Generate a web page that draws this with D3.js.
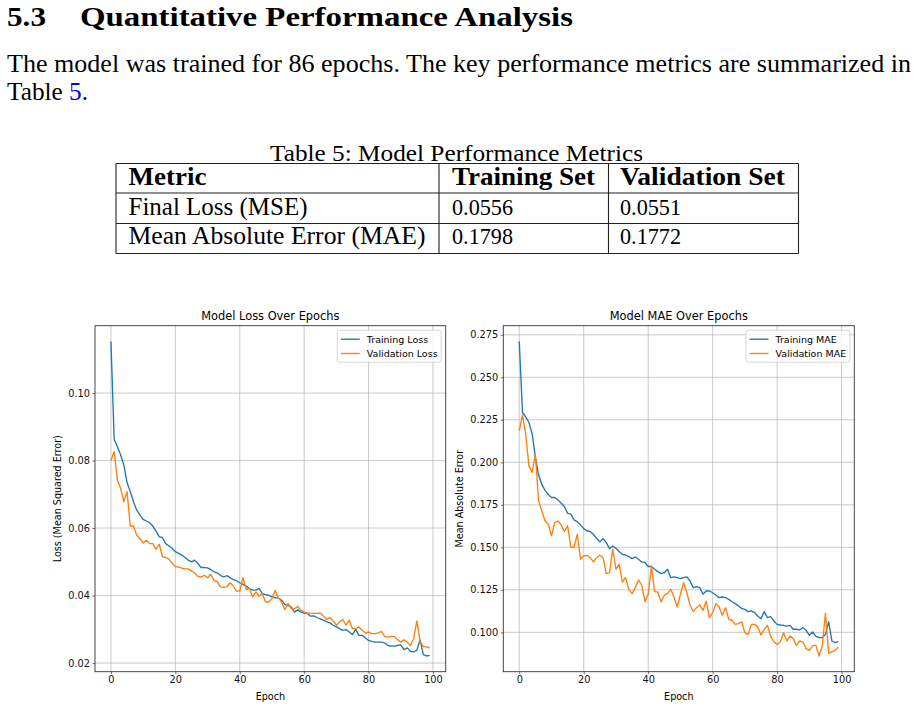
<!DOCTYPE html>
<html>
<head>
<meta charset="utf-8">
<script src="https://cdn.jsdelivr.net/npm/d3@7"></script>
<style>
  html, body { margin: 0; padding: 0; background: #fff; }
  svg { display: block; }
  .doc { font-family: "Liberation Serif", "DejaVu Serif", serif; fill: #000; }
  .mpl { font-family: "DejaVu Sans", sans-serif; fill: #000; }
</style>
</head>
<body>
<svg id="page" width="915" height="708"></svg>
<script>
// ---------------- data ----------------
const epochTicks = [0, 20, 40, 60, 80, 100];
const lossTicks = [0.02, 0.04, 0.06, 0.08, 0.10];
const maeTicks = [0.100, 0.125, 0.150, 0.175, 0.200, 0.225, 0.250, 0.275];

const trainLoss = [0.1153,0.0863,0.0841,0.0817,0.0787,0.0735,0.0708,0.0678,0.0653,0.0639,
  0.0626,0.0621,0.0616,0.0606,0.0591,0.0574,0.0572,0.0554,0.0547,0.0540,
  0.0530,0.0525,0.0520,0.0513,0.0505,0.0500,0.0505,0.0495,0.0483,0.0483,
  0.0482,0.0477,0.0470,0.0467,0.0460,0.0455,0.0459,0.0453,0.0447,0.0444,
  0.0438,0.0433,0.0428,0.0421,0.0416,0.0416,0.0421,0.0406,0.0403,0.0401,
  0.0396,0.0393,0.0393,0.0386,0.0374,0.0371,0.0366,0.0351,0.0358,0.0351,
  0.0348,0.0347,0.0339,0.0340,0.0335,0.0331,0.0327,0.0322,0.0319,0.0312,
  0.0307,0.0302,0.0297,0.0299,0.0292,0.0284,0.0300,0.0282,0.0282,0.0275,
  0.0267,0.0264,0.0262,0.0262,0.0262,0.0260,0.0252,0.0250,0.0250,0.0252,
  0.0254,0.0240,0.0245,0.0235,0.0233,0.0238,0.0269,0.0225,0.0221,0.0223];

const valLoss = [0.0800,0.0827,0.0742,0.0718,0.0678,0.0708,0.0606,0.0606,0.0579,0.0569,
  0.0556,0.0564,0.0554,0.0554,0.0537,0.0552,0.0515,0.0513,0.0508,0.0497,
  0.0485,0.0485,0.0481,0.0479,0.0479,0.0473,0.0467,0.0457,0.0455,0.0460,
  0.0453,0.0463,0.0445,0.0441,0.0426,0.0424,0.0426,0.0438,0.0428,0.0413,
  0.0413,0.0453,0.0418,0.0421,0.0396,0.0411,0.0398,0.0406,0.0381,0.0381,
  0.0391,0.0416,0.0393,0.0381,0.0358,0.0376,0.0361,0.0361,0.0368,0.0356,
  0.0351,0.0348,0.0348,0.0347,0.0347,0.0348,0.0339,0.0329,0.0335,0.0325,
  0.0312,0.0322,0.0329,0.0312,0.0327,0.0302,0.0302,0.0307,0.0297,0.0289,
  0.0292,0.0287,0.0287,0.0289,0.0294,0.0279,0.0277,0.0279,0.0279,0.0269,
  0.0262,0.0269,0.0262,0.0252,0.0272,0.0325,0.0262,0.0249,0.0248,0.0245];

const trainMae = [0.2711,0.2293,0.2267,0.2234,0.2169,0.2030,0.1925,0.1870,0.1835,0.1810,
  0.1793,0.1793,0.1779,0.1759,0.1740,0.1700,0.1695,0.1661,0.1651,0.1632,
  0.1610,0.1596,0.1593,0.1577,0.1553,0.1532,0.1551,0.1528,0.1492,0.1508,
  0.1494,0.1475,0.1459,0.1455,0.1445,0.1434,0.1443,0.1430,0.1414,0.1410,
  0.1387,0.1387,0.1371,0.1357,0.1345,0.1351,0.1371,0.1322,0.1326,0.1322,
  0.1316,0.1322,0.1326,0.1302,0.1263,0.1269,0.1263,0.1224,0.1243,0.1243,
  0.1233,0.1220,0.1204,0.1208,0.1204,0.1194,0.1180,0.1169,0.1155,0.1141,
  0.1135,0.1122,0.1126,0.1116,0.1096,0.1080,0.1122,0.1086,0.1092,0.1067,
  0.1047,0.1043,0.1041,0.1037,0.1041,0.1018,0.1018,0.1014,0.1027,0.1012,
  0.0982,0.1002,0.0978,0.0969,0.0969,0.0988,0.1063,0.0949,0.0939,0.0945];

const valMae = [0.2185,0.2279,0.2165,0.1979,0.1940,0.2048,0.1773,0.1714,0.1655,0.1636,
  0.1567,0.1645,0.1655,0.1632,0.1593,0.1626,0.1502,0.1502,0.1577,0.1430,
  0.1449,0.1453,0.1439,0.1414,0.1439,0.1453,0.1439,0.1345,0.1351,0.1489,
  0.1371,0.1400,0.1296,0.1322,0.1253,0.1228,0.1263,0.1308,0.1277,0.1180,
  0.1224,0.1390,0.1239,0.1237,0.1179,0.1220,0.1228,0.1253,0.1208,0.1149,
  0.1224,0.1292,0.1233,0.1161,0.1122,0.1145,0.1161,0.1129,0.1184,0.1086,
  0.1116,0.1169,0.1149,0.1100,0.1145,0.1077,0.1071,0.1047,0.1051,0.1061,
  0.0998,0.0988,0.1047,0.1047,0.1033,0.0984,0.1018,0.1041,0.0978,0.0945,
  0.0929,0.0945,0.0998,0.0949,0.0978,0.0963,0.0923,0.0949,0.0943,0.0904,
  0.0894,0.0920,0.0925,0.0861,0.0920,0.1112,0.0876,0.0886,0.0894,0.0914];

const tableHeader = ["Metric", "Training Set", "Validation Set"];
const tableRows = [
  ["Final Loss (MSE)", "0.0556", "0.0551"],
  ["Mean Absolute Error (MAE)", "0.1798", "0.1772"]
];

// ---------------- document text ----------------
const svg = d3.select("#page");

function docText(str, x, y, size, len, bold) {
  return svg.append("text").attr("class", "doc")
    .attr("x", x).attr("y", y)
    .attr("font-size", size)
    .attr("font-weight", bold ? "bold" : "normal")
    .attr("textLength", len).attr("lengthAdjust", "spacingAndGlyphs")
    .text(str);
}

docText("5.3", 7, 26, 28, 39, true);
docText("Quantitative Performance Analysis", 80, 26, 28, 493, true);
docText("The model was trained for 86 epochs.  The key performance metrics are summarized in", 7, 71.5, 24.5, 904, false);
const l2 = svg.append("text").attr("class", "doc").attr("x", 7).attr("y", 100)
  .attr("font-size", 24.5).attr("textLength", 81).attr("lengthAdjust", "spacingAndGlyphs");
l2.append("tspan").text("Table ");
l2.append("tspan").attr("fill", "#0000ff").text("5");
l2.append("tspan").text(".");

docText("Table 5: Model Performance Metrics", 270, 160.5, 24, 373, false);

// table
const colX = [116, 439, 608.5, 798.5];
const rowY = [163.5, 193, 223.5, 253.5];
const tg = svg.append("g").attr("stroke", "#222").attr("stroke-width", 1.1);
rowY.forEach(y => tg.append("line").attr("x1", colX[0]).attr("x2", colX[3]).attr("y1", y).attr("y2", y));
colX.forEach(x => tg.append("line").attr("x1", x).attr("x2", x).attr("y1", rowY[0]).attr("y2", rowY[3]));

const textX = [128.5, 452, 620];
const headerLens = [78, 143, 165];
tableHeader.forEach((h, i) => docText(h, textX[i], 185, 24.5, headerLens[i], true));
const rowBase = [215, 244.3];
const cellLens = [[179, 61, 61], [297, 61, 61]];
tableRows.forEach((r, ri) => r.forEach((c, ci) => docText(c, textX[ci], rowBase[ri], ci === 0 ? 24.5 : 23.5, cellLens[ri][ci], false)));

// ---------------- charts ----------------
const BLUE = "#1f77b4", ORANGE = "#ff7f0e";
const axTop = 325.7, axBottom = 671.7;
const TICK_FS = 9.8, LABEL_FS = 9.6, TITLE_FS = 11.4, LEG_FS = 9.5;

function chart(opts) {
  const g = svg.append("g");
  const n = opts.train.length;
  const xPad = 0.05 * (n - 1);
  const x = d3.scaleLinear().domain([-xPad, (n - 1) + xPad]).range([opts.left, opts.right]);
  const all = opts.train.concat(opts.val);
  const [mn, mx] = d3.extent(all);
  const yPad = 0.05 * (mx - mn);
  const y = d3.scaleLinear().domain([mn - yPad, mx + yPad]).range([axBottom, axTop]);

  // grid
  const grid = g.append("g").attr("stroke", "#b0b0b0").attr("stroke-width", 0.8).attr("stroke-opacity", 0.85);
  epochTicks.forEach(t => grid.append("line").attr("x1", x(t)).attr("x2", x(t)).attr("y1", axTop).attr("y2", axBottom));
  opts.yTicks.forEach(t => grid.append("line").attr("x1", opts.left).attr("x2", opts.right).attr("y1", y(t)).attr("y2", y(t)));

  // lines
  const line = d3.line().x((d, i) => x(i)).y(d => y(d));
  g.append("path").datum(opts.train).attr("d", line).attr("fill", "none")
    .attr("stroke", BLUE).attr("stroke-width", 1.35).attr("stroke-linejoin", "round");
  g.append("path").datum(opts.val).attr("d", line).attr("fill", "none")
    .attr("stroke", ORANGE).attr("stroke-width", 1.35).attr("stroke-linejoin", "round");

  // axes
  const xAxis = d3.axisBottom(x).tickValues(epochTicks).tickFormat(d3.format("d")).tickSize(2.5).tickPadding(2.3);
  const yAxis = d3.axisLeft(y).tickValues(opts.yTicks).tickFormat(d3.format(opts.fmt)).tickSize(2.5).tickPadding(2.5);
  const gx = g.append("g").attr("transform", `translate(0,${axBottom})`).call(xAxis);
  const gy = g.append("g").attr("transform", `translate(${opts.left},0)`).call(yAxis);
  [gx, gy].forEach(a => {
    a.select(".domain").remove();
    a.selectAll("text").attr("font-family", "DejaVu Sans").attr("font-size", TICK_FS).attr("fill", "#111");
    a.selectAll("line").attr("stroke", "#333").attr("stroke-width", 0.7);
  });

  // spines
  g.append("rect").attr("x", opts.left).attr("y", axTop)
    .attr("width", opts.right - opts.left).attr("height", axBottom - axTop)
    .attr("fill", "none").attr("stroke", "#333").attr("stroke-width", 0.9);

  // title & labels
  g.append("text").attr("class", "mpl").attr("x", (opts.left + opts.right) / 2).attr("y", 320)
    .attr("text-anchor", "middle").attr("font-size", TITLE_FS).text(opts.title);
  g.append("text").attr("class", "mpl").attr("x", (opts.left + opts.right) / 2).attr("y", 699.5)
    .attr("text-anchor", "middle").attr("font-size", LABEL_FS).text("Epoch");
  g.append("text").attr("class", "mpl")
    .attr("transform", `translate(${opts.ylabelX},${(axTop + axBottom) / 2}) rotate(-90)`)
    .attr("text-anchor", "middle").attr("font-size", LABEL_FS).text(opts.ylabel);

  // legend
  const lg = g.append("g");
  const box = lg.append("rect").attr("rx", 2).attr("ry", 2)
    .attr("fill", "#fff").attr("fill-opacity", 0.8).attr("stroke", "#cccccc").attr("stroke-width", 0.8);
  const items = [[opts.names[0], BLUE], [opts.names[1], ORANGE]];
  const texts = items.map(([name]) => lg.append("text").attr("class", "mpl").attr("font-size", LEG_FS).text(name));
  const tw = d3.max(texts, t => t.node().getComputedTextLength());
  const boxRight = opts.right - 4.5, boxTop = axTop + 4.5;
  const boxW = 3.6 + 19 + 7 + tw + 3.6;
  const boxLeft = boxRight - boxW;
  box.attr("x", boxLeft).attr("y", boxTop).attr("width", boxW).attr("height", 32);
  items.forEach(([name, col], i) => {
    const cy = boxTop + 9 + i * 14.3;
    lg.append("line").attr("x1", boxLeft + 3.6).attr("x2", boxLeft + 3.6 + 19)
      .attr("y1", cy).attr("y2", cy).attr("stroke", col).attr("stroke-width", 1.35);
    texts[i].attr("x", boxLeft + 3.6 + 19 + 7).attr("y", cy + 3.4);
  });
}

chart({
  left: 95, right: 445.7, train: trainLoss, val: valLoss, yTicks: lossTicks, fmt: ".2f",
  title: "Model Loss Over Epochs", ylabel: "Loss (Mean Squared Error)", ylabelX: 60.8,
  names: ["Training Loss", "Validation Loss"]
});
chart({
  left: 503.3, right: 854.3, train: trainMae, val: valMae, yTicks: maeTicks, fmt: ".3f",
  title: "Model MAE Over Epochs", ylabel: "Mean Absolute Error", ylabelX: 463.3,
  names: ["Training MAE", "Validation MAE"]
});
</script>
</body>
</html>
